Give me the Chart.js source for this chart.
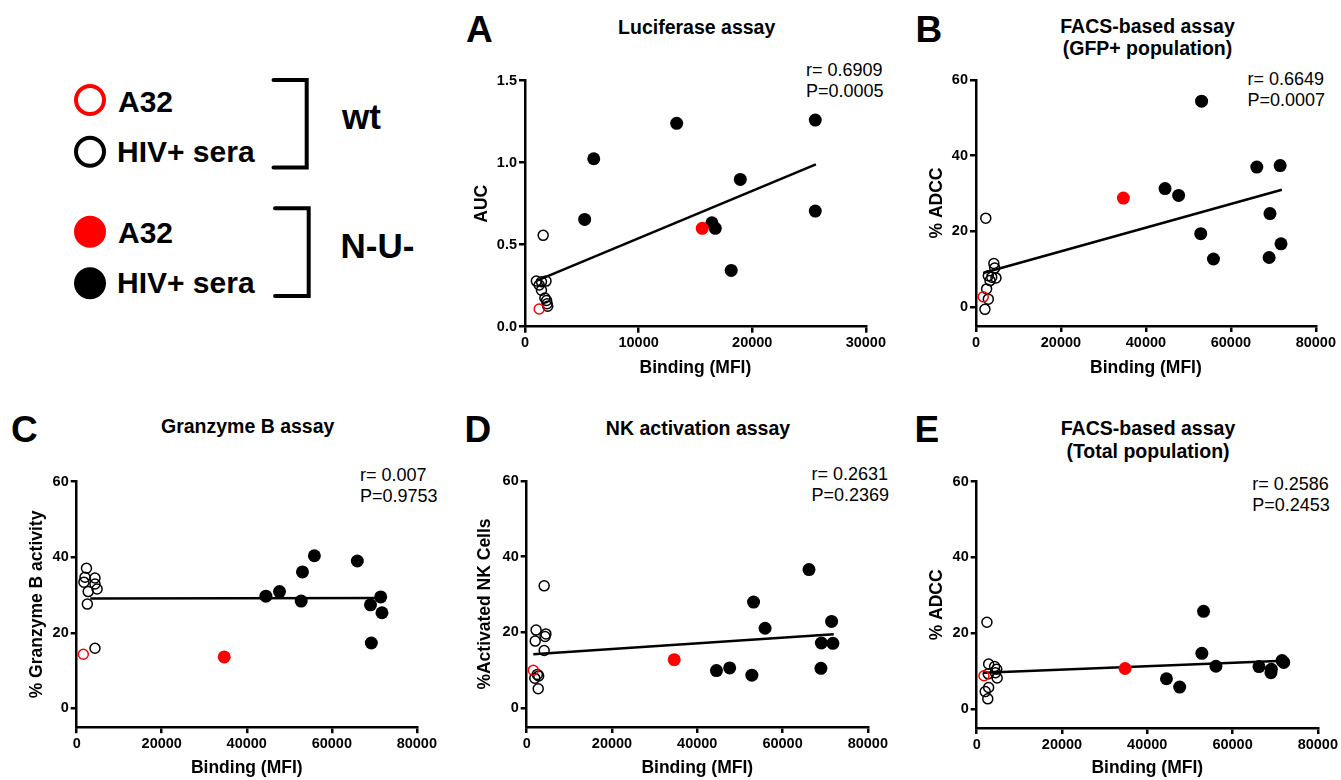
<!DOCTYPE html>
<html>
<head>
<meta charset="utf-8">
<script src="https://cdn.jsdelivr.net/npm/chart.js@4.4.1/dist/chart.umd.min.js"></script>
<style>
html, body { margin: 0; padding: 0; background: #fff; overflow: hidden; width: 1341px; height: 780px; }
canvas { position: absolute; }
svg { position: absolute; left: 0; top: 0; }
svg text { font-family: "Liberation Sans", Arial, sans-serif; font-weight: bold; fill: #000; }
svg text.stat { font-weight: normal; font-size: 18px; }
svg text.ttl { font-size: 19.5px; text-anchor: middle; }
svg text.big { font-size: 37px; }
svg text.leg { font-size: 30px; }
svg text.grp { font-size: 35px; }
</style>
</head>
<body>
<svg width="1341" height="780">
  <!-- legend -->
  <circle cx="90" cy="100" r="14" fill="none" stroke="#ff0000" stroke-width="4"/>
  <circle cx="90" cy="151.7" r="14" fill="none" stroke="#000" stroke-width="4"/>
  <circle cx="90" cy="231.7" r="16" fill="#ff0000"/>
  <circle cx="90" cy="283.3" r="16" fill="#000"/>
  <text class="leg" x="118" y="111.5">A32</text>
  <text class="leg" x="117" y="161.7">HIV+ sera</text>
  <text class="leg" x="118" y="243.3">A32</text>
  <text class="leg" x="117" y="293.3">HIV+ sera</text>
  <path d="M273.5 80 H306.7 V167.5 H273.5" fill="none" stroke="#000" stroke-width="4" stroke-linecap="round"/>
  <path d="M275 208.3 H308.7 V296 H275" fill="none" stroke="#000" stroke-width="4" stroke-linecap="round"/>
  <text class="grp" x="342" y="129.3">wt</text>
  <text class="grp" x="340.5" y="258.3">N-U-</text>

  <!-- panel letters -->
  <text class="big" x="466" y="42">A</text>
  <text class="big" x="915.5" y="42">B</text>
  <text class="big" x="11" y="442">C</text>
  <text class="big" x="464.5" y="442">D</text>
  <text class="big" x="914.5" y="442">E</text>

  <!-- panel titles -->
  <text class="ttl" x="696.7" y="34.3">Luciferase assay</text>
  <text class="ttl" x="1147.5" y="33.3">FACS-based assay</text>
  <text class="ttl" x="1147.5" y="55">(GFP+ population)</text>
  <text class="ttl" x="247.7" y="433.3">Granzyme B assay</text>
  <text class="ttl" x="698" y="435">NK activation assay</text>
  <text class="ttl" x="1148" y="435">FACS-based assay</text>
  <text class="ttl" x="1148" y="457.7">(Total population)</text>

  <!-- correlation stats -->
  <text class="stat" x="806" y="76">r= 0.6909</text>
  <text class="stat" x="806" y="96.7">P=0.0005</text>
  <text class="stat" x="1247.5" y="85.3">r= 0.6649</text>
  <text class="stat" x="1247.5" y="106">P=0.0007</text>
  <text class="stat" x="360" y="481">r= 0.007</text>
  <text class="stat" x="360" y="501.7">P=0.9753</text>
  <text class="stat" x="811.5" y="480">r= 0.2631</text>
  <text class="stat" x="811.5" y="500.7">P=0.2369</text>
  <text class="stat" x="1252.3" y="490">r= 0.2586</text>
  <text class="stat" x="1252.3" y="510.7">P=0.2453</text>
</svg>
<script>
// A: Luciferase assay
const aWtSeraX = [1600, 1000, 1450, 1850, 1250, 1450, 1750, 1900, 1950, 2000];
const aWtSeraY = [0.557, 0.278, 0.274, 0.278, 0.254, 0.222, 0.175, 0.160, 0.140, 0.125];
const aWtA32X = [1250];
const aWtA32Y = [0.108];
const aNuSeraX = [13350, 25550, 6050, 18950, 25550, 5250, 16450, 16750, 18150];
const aNuSeraY = [1.24, 1.26, 1.024, 0.898, 0.705, 0.654, 0.634, 0.60, 0.343];
const aNuA32X = [15600];
const aNuA32Y = [0.60];
const aFitX = [1000, 25600];
const aFitY = [0.28, 0.99];

// B: FACS GFP+ population
const bWtSeraX = [2300, 4200, 4400, 2900, 3700, 4700, 3300, 2500, 2900, 2100];
const bWtSeraY = [23.5, 11.5, 10.3, 8.3, 7.9, 7.7, 7.0, 4.8, 2.1, -0.6];
const bWtA32X = [1700];
const bWtA32Y = [2.7];
const bNuSeraX = [53100, 66100, 71600, 44500, 47700, 69200, 52900, 71800, 55900, 69000];
const bNuSeraY = [54.4, 37.0, 37.4, 31.3, 29.5, 24.7, 19.4, 16.7, 12.7, 13.1];
const bNuA32X = [34700];
const bNuA32Y = [28.8];
const bFitX = [1700, 72000];
const bFitY = [9.0, 31.0];

// C: Granzyme B assay
const cWtSeraX = [2300, 1950, 4300, 1700, 4300, 4800, 2700, 2500, 4300];
const cWtSeraY = [37.1, 34.7, 34.5, 33.4, 32.9, 31.6, 30.9, 27.6, 15.9];
const cWtA32X = [1560];
const cWtA32Y = [14.3];
const cNuSeraX = [55900, 66000, 53100, 47700, 44500, 52800, 71500, 69100, 71800, 69300];
const cNuSeraY = [40.4, 39.0, 36.1, 30.9, 29.7, 28.4, 29.5, 27.4, 25.3, 17.3];
const cNuA32X = [34700];
const cNuA32Y = [13.6];
const cFitX = [3200, 71600];
const cFitY = [29.1, 29.2];

// D: NK activation assay
const dWtSeraX = [4100, 2200, 4500, 4300, 2000, 4100, 2500, 2800, 1900, 2700];
const dWtSeraY = [32.3, 20.6, 19.6, 18.9, 17.7, 15.2, 8.9, 8.5, 7.9, 5.1];
const dWtA32X = [1550];
const dWtA32Y = [10.0];
const dNuSeraX = [66200, 53200, 55900, 71500, 69100, 71800, 47600, 44500, 69000, 52800];
const dNuSeraY = [36.6, 28.0, 21.1, 22.9, 17.2, 17.1, 10.6, 9.9, 10.5, 8.7];
const dNuA32X = [34600];
const dNuA32Y = [12.8];
const dFitX = [1550, 72000];
const dFitY = [14.2, 19.5];

// E: FACS total population
const eWtSeraX = [2400, 2800, 4200, 4700, 4400, 2700, 4800, 2800, 2000, 2600];
const eWtSeraY = [22.9, 11.9, 11.2, 10.5, 9.6, 9.3, 8.2, 5.7, 4.6, 2.7];
const eWtA32X = [1700];
const eWtA32Y = [8.8];
const eNuSeraX = [53200, 52800, 56100, 66200, 69100, 69000, 71600, 72000, 44500, 47600];
const eNuSeraY = [25.8, 14.7, 11.3, 11.2, 10.5, 9.6, 12.8, 12.3, 8.0, 5.8];
const eNuA32X = [34800];
const eNuA32Y = [10.7];
const eFitX = [1700, 72000];
const eFitY = [9.6, 12.75];

// tick labels
const aTicksX = [0, 10000, 20000, 30000];
const aTicksY = [0, 0.5, 1.0, 1.5];
const bindTicksX = [0, 20000, 40000, 60000, 80000];
const pctTicksY = [0, 20, 40, 60];

const FONT = '"Liberation Sans", Arial, sans-serif';
const RED = '#ff0000';

function pts(xs, ys) {
    return xs.map((x, i) => ({x: x, y: ys[i]}));
}

function axis(opts) {
    return {
        type: 'linear',
        min: opts.min,
        max: opts.max,
        afterBuildTicks: s => { s.ticks = opts.ticks.map(v => ({value: v})); },
        afterFit: opts.fit,
        ticks: {
            color: '#000',
            font: {family: FONT, size: 14.5, weight: 'bold'},
            padding: 2,
            maxRotation: 0,
            autoSkip: false,
            callback: opts.fmt
        },
        grid: {drawOnChartArea: false, drawTicks: true, tickLength: 6, tickWidth: 2.5, tickColor: '#000', color: '#000', lineWidth: 2.5},
        border: {display: true, color: '#000', width: 2.5},
        title: {
            display: true,
            text: opts.title,
            color: '#000',
            font: {family: FONT, size: 17.5, weight: 'bold', lineHeight: 1.2},
            padding: opts.pad
        }
    };
}

function panel(p) {
    const [l, t, r, b] = p.area;
    const cl = Math.round(l - 70), ct = Math.round(t - 20);
    const w = Math.round(r + 20 - cl), h = Math.round(b + 60 - ct);
    const wy = l - cl, padT = t - ct, padR = cl + w - r, hx = ct + h - b;

    const cv = document.createElement('canvas');
    cv.width = w;
    cv.height = h;
    cv.style.left = cl + 'px';
    cv.style.top = ct + 'px';
    document.body.appendChild(cv);

    new Chart(cv, {
        type: 'scatter',
        data: {
            datasets: [
                {data: pts(p.fitX, p.fitY), showLine: true, borderColor: '#000', borderWidth: 2.5,
                 pointRadius: 0, fill: false, order: 3},
                {data: pts(p.wtX, p.wtY), pointRadius: 5, pointBorderWidth: 1.5,
                 backgroundColor: 'rgba(0,0,0,0)', borderColor: '#000', order: 2},
                {data: pts(p.wtA32X, p.wtA32Y), pointRadius: 5, pointBorderWidth: 1.5,
                 backgroundColor: 'rgba(0,0,0,0)', borderColor: RED, order: 1},
                {data: pts(p.nuX, p.nuY), pointRadius: 6.5, pointBorderWidth: 0,
                 backgroundColor: '#000', borderColor: '#000', order: 2},
                {data: pts(p.nuA32X, p.nuA32Y), pointRadius: 6.5, pointBorderWidth: 0,
                 backgroundColor: RED, borderColor: RED, order: 1}
            ]
        },
        options: {
            responsive: false,
            animation: false,
            devicePixelRatio: 1,
            events: [],
            layout: {padding: {left: 0, top: padT, right: padR, bottom: 0}},
            plugins: {legend: {display: false}, tooltip: {enabled: false}},
            scales: {
                x: axis({min: p.xMin, max: p.xMax, ticks: p.xTicks, title: 'Binding (MFI)',
                         fmt: v => String(v), fit: s => { s.height = hx; },
                         pad: {top: 0, bottom: hx - p.gapX - 10.5}}),
                y: axis({min: p.yMin, max: p.yMax, ticks: p.yTicks, title: p.yTitle,
                         fmt: p.yFmt, fit: s => { s.width = wy; },
                         pad: {top: wy - p.gapY - 10.5, bottom: 0}})
            }
        }
    });
}

panel({area: [525, 80.7, 868.3, 326.7], xMin: 0, xMax: 30000, yMin: 0, yMax: 1.5,
       xTicks: aTicksX, yTicks: aTicksY, yTitle: 'AUC', yFmt: v => v.toFixed(1),
       gapX: 41.3, gapY: 43,
       wtX: aWtSeraX, wtY: aWtSeraY, wtA32X: aWtA32X, wtA32Y: aWtA32Y,
       nuX: aNuSeraX, nuY: aNuSeraY, nuA32X: aNuA32X, nuA32Y: aNuA32Y, fitX: aFitX, fitY: aFitY});

panel({area: [976, 80, 1318.3, 326], xMin: 0, xMax: 80000, yMin: -5, yMax: 60,
       xTicks: bindTicksX, yTicks: pctTicksY, yTitle: '% ADCC', yFmt: v => String(v),
       gapX: 42.3, gapY: 39.3,
       wtX: bWtSeraX, wtY: bWtSeraY, wtA32X: bWtA32X, wtA32Y: bWtA32Y,
       nuX: bNuSeraX, nuY: bNuSeraY, nuA32X: bNuA32X, nuA32Y: bNuA32Y, fitX: bFitX, fitY: bFitY});

panel({area: [76.7, 481.7, 419, 727.2], xMin: 0, xMax: 80000, yMin: -5, yMax: 60,
       xTicks: bindTicksX, yTicks: pctTicksY, yTitle: '% Granzyme B activity', yFmt: v => String(v),
       gapX: 40.8, gapY: 40,
       wtX: cWtSeraX, wtY: cWtSeraY, wtA32X: cWtA32X, wtA32Y: cWtA32Y,
       nuX: cNuSeraX, nuY: cNuSeraY, nuA32X: cNuA32X, nuA32Y: cNuA32Y, fitX: cFitX, fitY: cFitY});

panel({area: [526.7, 481, 870, 727], xMin: 0, xMax: 80000, yMin: -5, yMax: 60,
       xTicks: bindTicksX, yTicks: pctTicksY, yTitle: '%Activated NK Cells', yFmt: v => String(v),
       gapX: 41, gapY: 41.7,
       wtX: dWtSeraX, wtY: dWtSeraY, wtA32X: dWtA32X, wtA32Y: dWtA32Y,
       nuX: dNuSeraX, nuY: dNuSeraY, nuA32X: dNuA32X, nuA32Y: dNuA32Y, fitX: dFitX, fitY: dFitY});

panel({area: [976.7, 481.7, 1320, 728], xMin: 0, xMax: 80000, yMin: -5, yMax: 60,
       xTicks: bindTicksX, yTicks: pctTicksY, yTitle: '% ADCC', yFmt: v => String(v),
       gapX: 40, gapY: 40,
       wtX: eWtSeraX, wtY: eWtSeraY, wtA32X: eWtA32X, wtA32Y: eWtA32Y,
       nuX: eNuSeraX, nuY: eNuSeraY, nuA32X: eNuA32X, nuA32Y: eNuA32Y, fitX: eFitX, fitY: eFitY});
</script>
</body>
</html>
